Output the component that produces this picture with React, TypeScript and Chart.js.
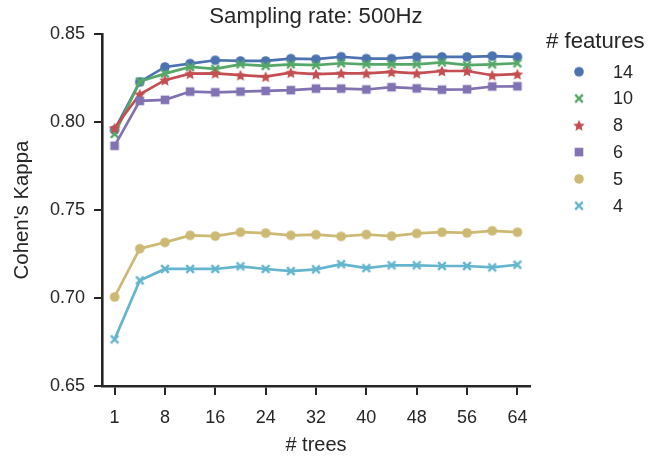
import React, { useEffect, useRef } from 'react';
import { Chart, registerables } from 'chart.js';

Chart.register(...registerables);

const TREES = [1, 4, 8, 12, 16, 20, 24, 28, 32, 36, 40, 44, 48, 52, 56, 60, 64];
const F14 = [0.7955, 0.8228, 0.8313, 0.8332, 0.8351, 0.8347, 0.8347, 0.836, 0.8357, 0.8371, 0.836, 0.836, 0.837, 0.837, 0.837, 0.8375, 0.837];
const F10 = [0.7932, 0.823, 0.8275, 0.8313, 0.8302, 0.8328, 0.8319, 0.8328, 0.8323, 0.8334, 0.8328, 0.8328, 0.8328, 0.8339, 0.8323, 0.8328, 0.8334];
const F8 = [0.7966, 0.8158, 0.8238, 0.8275, 0.8277, 0.8266, 0.8258, 0.8281, 0.8272, 0.8277, 0.8277, 0.8285, 0.8277, 0.829, 0.829, 0.8266, 0.8272];
const F6 = [0.7865, 0.812, 0.8126, 0.8173, 0.8169, 0.8173, 0.8177, 0.8181, 0.819, 0.819, 0.8185, 0.8198, 0.8191, 0.8184, 0.8186, 0.8202, 0.8203];
const F5 = [0.7006, 0.728, 0.7316, 0.7356, 0.7352, 0.7374, 0.7369, 0.7356, 0.736, 0.735, 0.7361, 0.7352, 0.7367, 0.7374, 0.737, 0.7382, 0.7374];
const F4 = [0.6765, 0.71, 0.7165, 0.7165, 0.7165, 0.718, 0.7165, 0.7153, 0.7163, 0.7192, 0.717, 0.7186, 0.7186, 0.7182, 0.7182, 0.7174, 0.7189];

const SERIES = [F14, F10, F8, F6, F5, F4];
const SERIES_LABELS = ['14', '10', '8', '6', '5', '4'];
const COLORS = ['#4C72B0', '#55A868', '#C44E52', '#8172B2', '#CCB974', '#64B5CD'];
const MARKERS = ['circle', 'x', 'star', 'square', 'circle', 'x'];
const Y_TICKS = [0.65, 0.7, 0.75, 0.8, 0.85];

const TITLE = 'Sampling rate: 500Hz';
const X_TITLE = '# trees';
const Y_TITLE = "Cohen's Kappa";
const LEGEND_TITLE = '# features';

const FONT = "'Liberation Sans', Arial, sans-serif";
const INK = '#262626';

function makeMarker(kind: string, color: string): HTMLCanvasElement {
  const size = 18;
  const c = document.createElement('canvas');
  c.width = size;
  c.height = size;
  const ctx = c.getContext('2d')!;
  const m = size / 2;
  ctx.fillStyle = color;
  ctx.strokeStyle = color;
  if (kind === 'circle') {
    ctx.beginPath();
    ctx.arc(m, m, 4.8, 0, Math.PI * 2);
    ctx.fill();
  } else if (kind === 'square') {
    ctx.fillRect(m - 4.3, m - 4.3, 8.6, 8.6);
  } else if (kind === 'x') {
    const r = 3.8;
    ctx.lineWidth = 2.4;
    ctx.beginPath();
    ctx.moveTo(m - r, m - r);
    ctx.lineTo(m + r, m + r);
    ctx.moveTo(m + r, m - r);
    ctx.lineTo(m - r, m + r);
    ctx.stroke();
  } else if (kind === 'star') {
    const ro = 6.0;
    const ri = 2.8;
    ctx.beginPath();
    for (let k = 0; k < 10; k++) {
      const r = k % 2 === 0 ? ro : ri;
      const a = -Math.PI / 2 + (k * Math.PI) / 5;
      const px = m + r * Math.cos(a);
      const py = m + 0.6 + r * Math.sin(a);
      if (k === 0) ctx.moveTo(px, py);
      else ctx.lineTo(px, py);
    }
    ctx.closePath();
    ctx.fill();
  }
  return c;
}

export default function App() {
  const ref = useRef<HTMLCanvasElement | null>(null);

  useEffect(() => {
    if (!ref.current) return;
    const markers = SERIES.map((_, i) => makeMarker(MARKERS[i], COLORS[i]));

    const legendPlugin = {
      id: 'customLegend',
      afterDraw(chart: any) {
        const ctx = chart.ctx as CanvasRenderingContext2D;
        ctx.save();
        ctx.fillStyle = INK;
        ctx.textBaseline = 'middle';
        ctx.textAlign = 'left';
        ctx.font = `22.2px ${FONT}`;
        ctx.fillText(LEGEND_TITLE, 546, 42);
        ctx.font = `18px ${FONT}`;
        SERIES_LABELS.forEach((lab, i) => {
          const y = 71.7 + i * 26.8;
          const mk = markers[i];
          ctx.drawImage(mk, 579 - mk.width / 2, y - mk.height / 2);
          ctx.fillStyle = INK;
          ctx.fillText(lab, 613, y + 1);
        });
        ctx.restore();
      },
    };

    const chart = new Chart(ref.current, {
      type: 'line',
      data: {
        labels: TREES.map(String),
        datasets: SERIES.map((d, i) => ({
          label: SERIES_LABELS[i],
          data: d,
          borderColor: COLORS[i],
          backgroundColor: COLORS[i],
          borderWidth: 2.7,
          pointStyle: markers[i] as any,
          pointRadius: 5,
          tension: 0,
          order: -i,
        })),
      },
      options: {
        animation: false,
        responsive: false,
        events: [],
        layout: { padding: { left: 0, right: 132, top: 0, bottom: 0 } },
        plugins: {
          legend: { display: false },
          tooltip: { enabled: false },
          title: {
            display: true,
            text: TITLE,
            fullSize: false,
            color: INK,
            font: { family: FONT, size: 22.2, weight: 'normal' },
            padding: { top: 4, bottom: 3.4 },
          },
        },
        scales: {
          x: {
            type: 'category',
            offset: true,
            afterBuildTicks: (scale: any) => {
              scale.ticks = scale.ticks.filter((_: any, i: number) => i % 2 === 0);
            },
            afterFit: (scale: any) => {
              scale.height = 72;
            },
            grid: {
              drawOnChartArea: false,
              drawTicks: true,
              tickLength: 9,
              color: INK,
              lineWidth: 2,
              offset: false,
            },
            border: { display: true, color: INK, width: 2.6 },
            ticks: {
              autoSkip: false,
              maxRotation: 0,
              color: INK,
              padding: 12,
              font: { family: FONT, size: 18 },
            },
            title: {
              display: true,
              text: X_TITLE,
              color: INK,
              font: { family: FONT, size: 20 },
              padding: { top: 0, bottom: 1 },
            },
          },
          y: {
            type: 'linear',
            min: Y_TICKS[0],
            max: Y_TICKS[Y_TICKS.length - 1],
            afterBuildTicks: (scale: any) => {
              scale.ticks = Y_TICKS.map((v) => ({ value: v }));
            },
            afterFit: (scale: any) => {
              scale.width = 102;
            },
            grid: {
              drawOnChartArea: false,
              drawTicks: true,
              tickLength: 8,
              color: INK,
              lineWidth: 2,
            },
            border: { display: true, color: INK, width: 2.6 },
            ticks: {
              color: INK,
              padding: 9,
              font: { family: FONT, size: 18 },
              callback: (v: any) => Number(v).toFixed(2),
            },
            title: {
              display: true,
              text: Y_TITLE,
              color: INK,
              font: { family: FONT, size: 20.4 },
              padding: { top: 10, bottom: 0 },
            },
          },
        },
      },
      plugins: [legendPlugin],
    });
    return () => chart.destroy();
  }, []);

  return (
    <div style={{ position: 'absolute', left: 0, top: 0, width: 662, height: 458 }}>
      <canvas ref={ref} width={662} height={458} />
    </div>
  );
}
